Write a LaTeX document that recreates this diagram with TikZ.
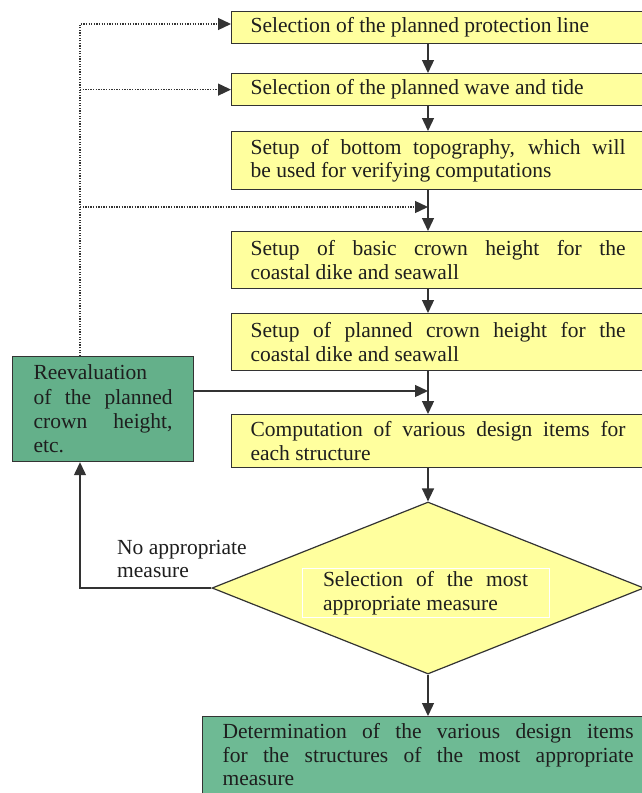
\documentclass[tikz,border=0pt]{standalone}
\usepackage{fontspec}
\setmainfont{Liberation Serif}
\usetikzlibrary{arrows.meta,shapes.geometric,calc}
\definecolor{yel}{HTML}{FFFF9E}
\definecolor{grn}{HTML}{64B08A}
\definecolor{grnb}{HTML}{6EBA94}
\definecolor{linec}{HTML}{333333}
\definecolor{txt}{HTML}{1E1E1E}
\newcommand\bxfont{\fontsize{21.5}{23.5}\selectfont}
\begin{document}
\begin{tikzpicture}[x=1pt,y=-1pt,
  ybox/.style={draw=linec, fill=yel, line width=1.2pt, text width=375pt,
    inner xsep=19pt, inner ysep=0pt, align=justify, anchor=north west,
    font=\bxfont, text=txt},
  gbox/.style={draw=linec, fill=grn, line width=1.2pt, align=justify,
    anchor=north west, font=\bxfont, text=txt},
  dia/.style={diamond, draw=linec, fill=yel, line width=1.2pt, inner sep=0pt,
    minimum width=432pt, minimum height=172pt},
  arr/.style={draw=linec, line width=1.3pt, -{Triangle[length=13pt,width=12pt]}},
  dotline/.style={line width=1.3pt, dash pattern=on 1.3pt off 1.3pt}]
\useasboundingbox (0,0) rectangle (642,793);
\clip (0,0) rectangle (642,793);
\fill[white] (0,0) rectangle (642,793);

\coordinate (ax) at (428,0);
\coordinate (lx) at (80,0);
\coordinate (t1) at (80,24);
\coordinate (m1) at (428,207);
\coordinate (m2) at (428,391);

\node[ybox, minimum height=32pt] (b1) at (231,11) {Selection of the planned protection line};
\node[ybox, minimum height=32pt] (b2) at (231,73) {Selection of the planned wave and tide};
\node[ybox, minimum height=58pt] (b3) at (231,131) {Setup of bottom topography, which will\linebreak be used for verifying computations};
\node[ybox, minimum height=57pt] (b4) at (231,231) {Setup of basic crown height for the\linebreak coastal dike and seawall};
\node[ybox, minimum height=57pt] (b5) at (231,313) {Setup of planned crown height for the\linebreak coastal dike and seawall};
\node[ybox, minimum height=53pt] (b6) at (231,414) {Computation of various design items for\linebreak each structure};

\node[gbox, text width=139pt, inner xsep=21pt, inner ysep=0pt, minimum height=105pt,
  font=\fontsize{21.5}{24.3}\selectfont] (r) at (12,356)
  {Reevaluation\\ of the planned\linebreak crown height,\linebreak etc.};

\node[dia] (d) at (428,588) {};
\node[draw=white, line width=1pt, text width=205pt, inner xsep=21pt, inner ysep=3pt,
  align=justify, font=\bxfont, text=txt] (dt) at (425.5,593)
  {Selection of the most\linebreak appropriate measure};

\node[gbox, fill=grnb, text width=411pt, inner xsep=20pt, inner ysep=7pt] (f) at (202,716)
  {Determination of the various design items\linebreak for the structures of the most appropriate\linebreak measure\\[30pt]\mbox{}};

\node[align=left, anchor=west, inner sep=0pt, font=\bxfont, text=txt] (lab) at (117,559)
  {No appropriate\\measure};

\draw[arr] (b1.south -| ax) -- (b2.north -| ax);
\draw[arr] (b2.south -| ax) -- (b3.north -| ax);
\draw[arr] (b3.south -| ax) -- (b4.north -| ax);
\draw[arr] (b4.south -| ax) -- (b5.north -| ax);
\draw[arr] (b5.south -| ax) -- (b6.north -| ax);
\draw[arr] (b6.south -| ax) -- (d.north);
\draw[arr] (d.south) -- (f.north -| d.south);
\draw[arr] (d.west) -| (r.south -| lx);
\draw[arr] (r.east |- m2) -- (m2);
\draw[arr, dotline] (r.north -| lx) |- (b1.west |- t1);
\draw[arr, dotline] (lx |- b2.west) -- (b2.west);
\draw[arr, dotline] (lx |- m1) -- (m1);
\end{tikzpicture}
\end{document}
